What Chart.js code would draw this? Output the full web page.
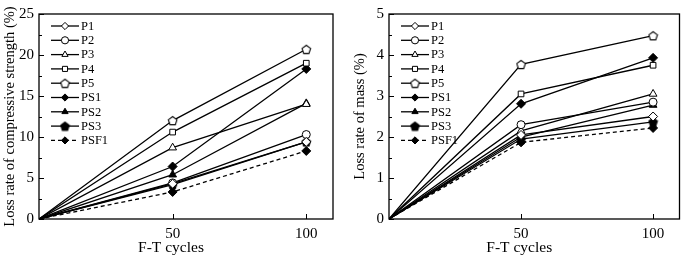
<!DOCTYPE html>
<html>
<head>
<meta charset="utf-8">
<script src="https://cdn.jsdelivr.net/npm/chart.js@4.4.1/dist/chart.umd.min.js"></script>
<style>
  html, body { margin: 0; padding: 0; background: #fff; }
  #wrap { position: relative; width: 685px; height: 259px; }
  #c1 { position: absolute; left: 0; top: 0; }
  #c2 { position: absolute; left: 343px; top: 0; }
</style>
</head>
<body>
<div id="wrap">
  <canvas id="c1" width="343" height="259"></canvas>
  <canvas id="c2" width="342" height="259"></canvas>
</div>
<script>
// F-T cycles
const CYCLES = [0, 50, 100];
const X_TICKS = [50, 100];
const SERIES = ['P1', 'P2', 'P3', 'P4', 'P5', 'PS1', 'PS2', 'PS3', 'PSF1'];

// loss rate of compressive strength (%)
const STRENGTH_P1 = [0, 4.3, 9.4];
const STRENGTH_P2 = [0, 4.4, 10.3];
const STRENGTH_P3 = [0, 8.7, 14.0];
const STRENGTH_P4 = [0, 10.6, 19.0];
const STRENGTH_P5 = [0, 12.0, 20.7];
const STRENGTH_PS1 = [0, 6.4, 18.3];
const STRENGTH_PS2 = [0, 5.4, 14.1];
const STRENGTH_PS3 = [0, 4.2, 9.4];
const STRENGTH_PSF1 = [0, 3.3, 8.3];

// loss rate of mass (%)
const MASS_P1 = [0, 2.05, 2.5];
const MASS_P2 = [0, 2.3, 2.85];
const MASS_P3 = [0, 2.15, 3.05];
const MASS_P4 = [0, 3.05, 3.75];
const MASS_P5 = [0, 3.77, 4.47];
const MASS_PS1 = [0, 2.81, 3.93];
const MASS_PS2 = [0, 2.0, 2.78];
const MASS_PS3 = [0, 1.95, 2.37];
const MASS_PSF1 = [0, 1.87, 2.22];

const FONT = "'Liberation Serif', 'Times New Roman', serif";

function pentagon(filled) {
    const c = document.createElement('canvas');
    c.width = 11; c.height = 11;
    const g = c.getContext('2d');
    g.beginPath();
    for (let i = 0; i < 5; i++) {
        const a = -Math.PI / 2 + i * 2 * Math.PI / 5;
        const px = 5.5 + 4.5 * Math.cos(a), py = 6 + 4.5 * Math.sin(a);
        if (i === 0) g.moveTo(px, py); else g.lineTo(px, py);
    }
    g.closePath();
    g.fillStyle = filled ? '#000' : '#fff';
    g.fill();
    g.strokeStyle = '#000';
    g.lineWidth = 1.1;
    g.stroke();
    return c;
}

// marker style per series: [pointStyle, filled, radius]
const MARKERS = [
    ['rectRot', false, 4.5],
    ['circle', false, 4],
    ['triangle', false, 4.5],
    ['rect', false, 4],
    [pentagon(false), false, 4],
    ['rectRot', true, 4.5],
    ['triangle', true, 4.5],
    [pentagon(true), true, 4],
    ['rectRot', true, 4.5]
];

function makeDatasets(values) {
    return values.map((vals, i) => {
        const m = MARKERS[i];
        return {
            label: SERIES[i],
            data: CYCLES.map((c, j) => ({ x: c, y: vals[j] })),
            borderColor: '#000',
            borderWidth: 1.3,
            borderDash: SERIES[i] === 'PSF1' ? [4, 3] : [],
            pointStyle: m[0],
            pointBackgroundColor: m[1] ? '#000' : '#fff',
            pointBorderColor: '#000',
            pointBorderWidth: 1,
            pointRadius: CYCLES.map(c => c === 0 ? 0 : m[2]),
            tension: 0,
            fill: false
        };
    });
}

const framePlugin = {
    id: 'frame',
    afterDraw(chart, args, opts) {
        const ctx = chart.ctx;
        const a = chart.chartArea;
        ctx.save();
        ctx.strokeStyle = '#000';
        ctx.lineWidth = 1.3;
        ctx.strokeRect(a.left, a.top, a.right - a.left, a.bottom - a.top);
        // inward ticks
        const ys = chart.scales.y, xs = chart.scales.x;
        ctx.lineWidth = 1;
        ctx.beginPath();
        for (let v = ys.min; v <= ys.max + 1e-9; v += opts.yMinor) {
            const py = Math.round(ys.getPixelForValue(v)) + 0.5;
            const major = Math.abs(v / opts.yMajor - Math.round(v / opts.yMajor)) < 1e-6;
            ctx.moveTo(a.left, py);
            ctx.lineTo(a.left + (major ? 5 : 3), py);
        }
        X_TICKS.forEach(v => {
            const px = Math.round(xs.getPixelForValue(v)) + 0.5;
            ctx.moveTo(px, a.bottom);
            ctx.lineTo(px, a.bottom - 5);
        });
        ctx.stroke();

        // x axis title, sits a little left of the plot centre
        ctx.fillStyle = '#000';
        ctx.font = '15.5px ' + FONT;
        ctx.textAlign = 'center';
        ctx.textBaseline = 'middle';
        ctx.fillText('F-T cycles', (a.left + a.right) / 2 - 15, 248);

        // legend
        let ly = a.top + 12;
        const lx = a.left + 12;
        chart.data.datasets.forEach(ds => {
            ctx.strokeStyle = '#000';
            ctx.lineWidth = 1.3;
            ctx.setLineDash(ds.borderDash);
            ctx.beginPath();
            ctx.moveTo(lx, ly);
            ctx.lineTo(lx + 28, ly);
            ctx.stroke();
            ctx.setLineDash([]);
            ctx.fillStyle = ds.pointBackgroundColor;
            ctx.lineWidth = 1;
            Chart.helpers.drawPoint(ctx, {
                pointStyle: ds.pointStyle,
                radius: 3.6,
                rotation: 0,
                borderWidth: 1
            }, lx + 14, ly);
            ctx.fillStyle = '#000';
            ctx.font = '12.5px ' + FONT;
            ctx.textBaseline = 'middle';
            ctx.textAlign = 'left';
            ctx.fillText(ds.label, lx + 30, ly + 0.5);
            ly += 14.3;
        });
        ctx.restore();
    }
};

function makeChart(id, values, yMax, yStep, yMinor, yTitle, yAxisWidth, titlePad, rightPad) {
    return new Chart(document.getElementById(id), {
        type: 'line',
        data: { datasets: makeDatasets(values) },
        options: {
            responsive: false,
            animation: false,
            layout: { padding: { top: 6, right: rightPad, left: 0, bottom: 0 } },
            scales: {
                x: {
                    type: 'linear',
                    min: 0,
                    max: 110,
                    afterBuildTicks: (s) => { s.ticks = X_TICKS.map(v => ({ value: v })); },
                    afterFit: (s) => { s.height = 40; },
                    grid: { display: false, drawTicks: false },
                    border: { display: false },
                    ticks: { color: '#000', padding: 6, font: { family: FONT, size: 15 } },
                    title: { display: false }
                },
                y: {
                    min: 0,
                    max: yMax,
                    afterFit: (s) => { s.width = yAxisWidth; },
                    grid: { display: false, drawTicks: false },
                    border: { display: false },
                    ticks: { stepSize: yStep, color: '#000', padding: 5, font: { family: FONT, size: 15 } },
                    title: {
                        display: true,
                        text: yTitle,
                        color: '#000',
                        font: { family: FONT, size: 14.5 },
                        padding: { top: titlePad, bottom: 0 }
                    }
                }
            },
            plugins: {
                legend: { display: false },
                tooltip: { enabled: false },
                frame: { yMajor: yStep, yMinor: yMinor }
            }
        },
        plugins: [framePlugin]
    });
}

makeChart('c1',
    [STRENGTH_P1, STRENGTH_P2, STRENGTH_P3, STRENGTH_P4, STRENGTH_P5,
     STRENGTH_PS1, STRENGTH_PS2, STRENGTH_PS3, STRENGTH_PSF1],
    25, 5, 2.5, 'Loss rate of compressive strength (%)', 39, 1, 10);

makeChart('c2',
    [MASS_P1, MASS_P2, MASS_P3, MASS_P4, MASS_P5,
     MASS_PS1, MASS_PS2, MASS_PS3, MASS_PSF1],
    5, 1, 0.5, 'Loss rate of mass (%)', 46, 8, 2);
</script>
</body>
</html>
